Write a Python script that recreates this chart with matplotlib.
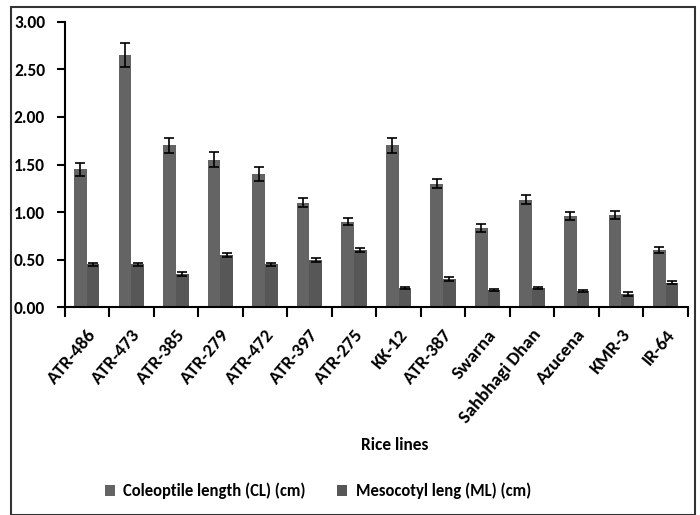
import matplotlib
matplotlib.use("Agg")
import matplotlib.pyplot as plt
import numpy as np
from matplotlib.patches import Rectangle
from matplotlib import font_manager as fm

available = {f.name for f in fm.fontManager.ttflist}
if 'Carlito' in available:
    main_font, scale = 'Carlito', 1.0
else:
    main_font, scale = 'Lato', 0.92
plt.rcParams['font.family'] = [main_font, 'DejaVu Sans']
plt.rcParams['font.weight'] = 'bold'

categories = ["ATR-486", "ATR-473", "ATR-385", "ATR-279", "ATR-472", "ATR-397",
              "ATR-275", "KK-12", "ATR-387", "Swarna", "Sahbhagi Dhan", "Azucena",
              "KMR-3", "IR-64"]
cl_values = [1.45, 2.65, 1.70, 1.55, 1.40, 1.10, 0.90, 1.70, 1.30, 0.83, 1.13, 0.96, 0.97, 0.60]
cl_errors = [0.07, 0.13, 0.08, 0.08, 0.07, 0.05, 0.04, 0.08, 0.05, 0.04, 0.05, 0.04, 0.04, 0.03]
ml_values = [0.45, 0.45, 0.35, 0.55, 0.45, 0.50, 0.60, 0.20, 0.30, 0.18, 0.20, 0.17, 0.14, 0.26]
ml_errors = [0.02, 0.02, 0.02, 0.02, 0.02, 0.02, 0.02, 0.01, 0.02, 0.01, 0.01, 0.01, 0.02, 0.02]
yticks = [0.0, 0.5, 1.0, 1.5, 2.0, 2.5, 3.0]
series_names = ["Coleoptile length (CL) (cm)", "Mesocotyl leng (ML) (cm)"]

W, H = 700, 515
fig = plt.figure(figsize=(W/100, H/100), dpi=100)
ax = fig.add_axes([64.5/W, 1-307.3/H, (688-64.5)/W, (307.3-21.7)/H])

x = np.arange(len(categories))
bw = 0.285
c1, c2 = '#646464', '#575757'
err_kw = dict(ecolor='black', elinewidth=1.2, capsize=3.5, capthick=1.2)
b1 = ax.bar(x - bw/2, cl_values, bw, yerr=cl_errors, color=c1, error_kw=err_kw, label=series_names[0])
b2 = ax.bar(x + bw/2, ml_values, bw, yerr=ml_errors, color=c2, error_kw=err_kw, label=series_names[1])

ax.set_xlim(-0.5, len(categories) - 0.5)
ax.set_ylim(0, 3.0)
ax.set_yticks(yticks)
ax.set_yticklabels([f"{v:.2f}" for v in yticks], fontsize=12.5*scale, fontweight='bold')
ax.set_xticks(np.arange(len(categories) + 1) - 0.5)
ax.set_xticklabels([])
ax.set_xticks(x, minor=True)
ax.set_xticklabels(categories, minor=True, rotation=50, ha='right', rotation_mode='anchor',
                   fontsize=13.5*scale, fontweight='bold')
ax.tick_params(axis='x', which='minor', length=0, pad=14)
ax.tick_params(axis='x', which='major', length=7, width=1.5, direction='out')
ax.tick_params(axis='y', length=6, width=1.5, direction='out', pad=8)
for s in ['top', 'right']:
    ax.spines[s].set_visible(False)
for s in ['left', 'bottom']:
    ax.spines[s].set_linewidth(1.5)
    ax.spines[s].set_color('black')

fig.text(394.5/W, 1-445/H, "Rice lines", ha='center', va='center', fontsize=12.5*scale, fontweight='bold')

leg = fig.legend(handles=[b1, b2], labels=series_names, loc='center', ncol=2,
                 bbox_to_anchor=(318/W, 1-491/H), frameon=False, fontsize=12*scale,
                 handlelength=0.6, handleheight=0.6, handletextpad=0.5, columnspacing=1.9)

fig.patches.append(Rectangle((11/W, 0), (695-11)/W, 1-7.3/H, transform=fig.transFigure,
                             fill=False, edgecolor='#333333', linewidth=1.5))

fig.savefig("out.png", dpi=100)
